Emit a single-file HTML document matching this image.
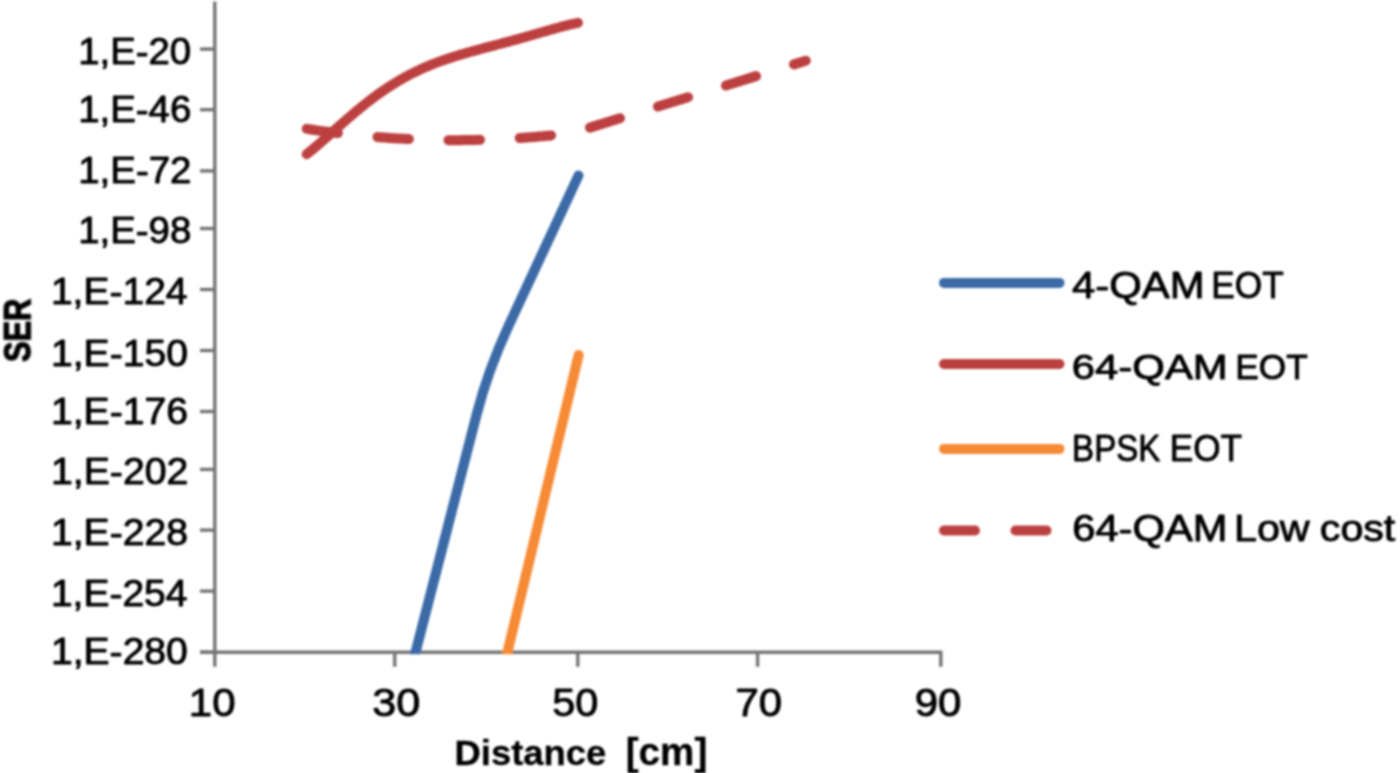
<!DOCTYPE html>
<html><head><meta charset="utf-8"><style>
html,body{margin:0;padding:0;background:#fff;}
svg{display:block;font-family:"Liberation Sans", sans-serif;font-kerning:none;}
#art{filter:url(#soft);}
text{font-kerning:none;stroke:#000;stroke-width:0.9px;stroke-linejoin:round;}
</style></head><body>
<svg width="1400" height="773" viewBox="0 0 1400 773">
<defs><filter id="soft" x="-2%" y="-2%" width="104%" height="104%"><feGaussianBlur stdDeviation="0.8"/></filter></defs>
<rect width="1400" height="773" fill="#fff"/>
<g id="art">
<line x1="214.8" y1="1.5" x2="214.8" y2="653.7" stroke="#747474" stroke-width="3.4"/>
<line x1="200" y1="652.2" x2="942.3" y2="652.2" stroke="#747474" stroke-width="3.4"/>
<line x1="200" y1="49.1" x2="214.8" y2="49.1" stroke="#747474" stroke-width="3.4"/>
<line x1="200" y1="109.7" x2="214.8" y2="109.7" stroke="#747474" stroke-width="3.4"/>
<line x1="200" y1="170.9" x2="214.8" y2="170.9" stroke="#747474" stroke-width="3.4"/>
<line x1="200" y1="228.5" x2="214.8" y2="228.5" stroke="#747474" stroke-width="3.4"/>
<line x1="200" y1="289.5" x2="214.8" y2="289.5" stroke="#747474" stroke-width="3.4"/>
<line x1="200" y1="350.5" x2="214.8" y2="350.5" stroke="#747474" stroke-width="3.4"/>
<line x1="200" y1="411.5" x2="214.8" y2="411.5" stroke="#747474" stroke-width="3.4"/>
<line x1="200" y1="469.4" x2="214.8" y2="469.4" stroke="#747474" stroke-width="3.4"/>
<line x1="200" y1="530.1" x2="214.8" y2="530.1" stroke="#747474" stroke-width="3.4"/>
<line x1="200" y1="591.1" x2="214.8" y2="591.1" stroke="#747474" stroke-width="3.4"/>
<line x1="200" y1="652.2" x2="214.8" y2="652.2" stroke="#747474" stroke-width="3.4"/>
<line x1="214.8" y1="652.2" x2="214.8" y2="666.8" stroke="#747474" stroke-width="3.4"/>
<line x1="394.7" y1="652.2" x2="394.7" y2="666.8" stroke="#747474" stroke-width="3.4"/>
<line x1="577.8" y1="652.2" x2="577.8" y2="666.8" stroke="#747474" stroke-width="3.4"/>
<line x1="757.6" y1="652.2" x2="757.6" y2="666.8" stroke="#747474" stroke-width="3.4"/>
<line x1="940.8" y1="652.2" x2="940.8" y2="666.8" stroke="#747474" stroke-width="3.4"/>
<text transform="translate(78.18,63.80) scale(1.0340,1)" font-size="37.06" font-weight="normal" fill="#000" >1,E-20</text>
<text transform="translate(78.18,121.50) scale(1.0358,1)" font-size="37.06" font-weight="normal" fill="#000" >1,E-46</text>
<text transform="translate(78.17,182.60) scale(1.0422,1)" font-size="36.92" font-weight="normal" fill="#000" >1,E-72</text>
<text transform="translate(78.18,243.20) scale(1.0356,1)" font-size="37.06" font-weight="normal" fill="#000" >1,E-98</text>
<text transform="translate(50.93,304.10) scale(1.0483,1)" font-size="37.21" font-weight="normal" fill="#000" >1,E-124</text>
<text transform="translate(50.92,365.60) scale(1.0472,1)" font-size="37.36" font-weight="normal" fill="#000" >1,E-150</text>
<text transform="translate(50.92,423.50) scale(1.0528,1)" font-size="37.21" font-weight="normal" fill="#000" >1,E-176</text>
<text transform="translate(50.91,484.10) scale(1.0548,1)" font-size="37.21" font-weight="normal" fill="#000" >1,E-202</text>
<text transform="translate(50.92,544.80) scale(1.0526,1)" font-size="37.21" font-weight="normal" fill="#000" >1,E-228</text>
<text transform="translate(50.93,606.20) scale(1.0777,1)" font-size="36.19" font-weight="normal" fill="#000" >1,E-254</text>
<text transform="translate(50.92,663.80) scale(1.0680,1)" font-size="36.63" font-weight="normal" fill="#000" >1,E-280</text>
<text transform="translate(188.80,716.00) scale(1.1035,1)" font-size="38.08" font-weight="normal" fill="#000" >10</text>
<text transform="translate(372.36,716.00) scale(1.1339,1)" font-size="38.08" font-weight="normal" fill="#000" >30</text>
<text transform="translate(552.24,716.00) scale(1.0878,1)" font-size="38.08" font-weight="normal" fill="#000" >50</text>
<text transform="translate(735.55,716.00) scale(1.0997,1)" font-size="38.08" font-weight="normal" fill="#000" >70</text>
<text transform="translate(914.63,716.00) scale(1.1027,1)" font-size="38.08" font-weight="normal" fill="#000" >90</text>
<text transform="translate(454.46,764.90) scale(1.0190,1)" font-size="35.76" font-weight="bold" fill="#000" style="stroke-width:0.3px" >Distance</text>
<text transform="translate(625.73,764.90) scale(1.0126,1)" font-size="38.14" font-weight="bold" fill="#000" style="stroke-width:0.3px" >[cm]</text>
<g transform="translate(30.9,362.5) rotate(-90)"><text transform="translate(0.51,-0.60) scale(0.8488,1)" font-size="36.34" font-weight="bold" fill="#000" style="stroke-width:1.3px" >SER</text></g>
<text transform="translate(1072.04,298.00) scale(1.1243,1)" font-size="37.21" font-weight="normal" fill="#000">4-QAM</text>
<text transform="translate(1211.21,298.00) scale(0.9479,1)" font-size="37.21" font-weight="normal" fill="#000">EOT</text>
<line x1="944" y1="282.9" x2="1059.5" y2="282.9" stroke="#3B6AA7" stroke-width="10" stroke-linecap="round"/>
<text transform="translate(1071.77,378.70) scale(1.1771,1)" font-size="35.61" font-weight="normal" fill="#000">64-QAM</text>
<text transform="translate(1235.31,378.70) scale(0.9904,1)" font-size="35.61" font-weight="normal" fill="#000">EOT</text>
<line x1="944" y1="364.0" x2="1059.5" y2="364.0" stroke="#BD4141" stroke-width="10" stroke-linecap="round"/>
<text transform="translate(1072.09,460.60) scale(0.8848,1)" font-size="37.36" font-weight="normal" fill="#000">BPSK</text>
<text transform="translate(1169.72,460.60) scale(0.9414,1)" font-size="37.36" font-weight="normal" fill="#000">EOT</text>
<line x1="944" y1="448.9" x2="1059.5" y2="448.9" stroke="#F68A35" stroke-width="10" stroke-linecap="round"/>
<text transform="translate(1072.18,541.30) scale(1.1346,1)" font-size="36.77" font-weight="normal" fill="#000">64-QAM</text>
<text transform="translate(1233.91,541.30) scale(1.1234,1)" font-size="36.77" font-weight="normal" fill="#000">Low</text>
<text transform="translate(1319.85,541.30) scale(1.1187,1)" font-size="36.77" font-weight="normal" fill="#000">cost</text>
<line x1="944" y1="530.5" x2="1059.5" y2="530.5" stroke="#BD4141" stroke-width="10" stroke-linecap="round" stroke-dasharray="31 40.5"/>
<defs><clipPath id="pa"><rect x="0" y="0" width="1400" height="654.2"/></clipPath></defs>
<g clip-path="url(#pa)" fill="none" stroke-width="10" stroke-linecap="round" stroke-linejoin="round">
<path d="M306.70,128.87 L308.70,129.17 L310.70,129.47 L312.70,129.76 L314.70,130.05 L316.70,130.34 L318.70,130.62 L320.70,130.90 L322.70,131.17 L324.70,131.44 L326.70,131.71 L328.70,131.97 L330.70,132.22 L332.70,132.48 L334.70,132.72 L336.70,132.97 L338.70,133.21 L340.70,133.45 L342.70,133.68 L344.70,133.91 L346.70,134.13 L348.70,134.35 L350.70,134.57 L352.70,134.78 L354.70,134.99 L356.70,135.19 L358.70,135.39 L360.70,135.59 L362.70,135.78 L364.70,135.96 L366.70,136.15 L368.70,136.33 L370.70,136.50 L372.70,136.67 L374.70,136.84 L376.70,137.00 L378.70,137.16 L380.70,137.31 L382.70,137.46 L384.70,137.61 L386.70,137.75 L388.70,137.89 L390.70,138.03 L392.70,138.16 L394.70,138.28 L396.70,138.40 L398.70,138.52 L400.70,138.63 L402.70,138.74 L404.70,138.85 L406.70,138.95 L408.70,139.05 L410.70,139.14 L412.70,139.23 L414.70,139.31 L416.70,139.39 L418.70,139.47 L420.70,139.54 L422.70,139.61 L424.70,139.68 L426.70,139.74 L428.70,139.79 L430.70,139.84 L432.70,139.89 L434.70,139.94 L436.70,139.98 L438.70,140.01 L440.70,140.04 L442.70,140.07 L444.70,140.09 L446.70,140.11 L448.70,140.13 L450.70,140.14 L452.70,140.15 L454.70,140.15 L456.70,140.15 L458.70,140.14 L460.70,140.13 L462.70,140.12 L464.70,140.10 L466.70,140.08 L468.70,140.05 L470.70,140.02 L472.70,139.99 L474.70,139.95 L476.70,139.91 L478.70,139.86 L480.70,139.81 L482.70,139.76 L484.70,139.70 L486.70,139.64 L488.70,139.57 L490.70,139.50 L492.70,139.42 L494.70,139.35 L496.70,139.26 L498.70,139.17 L500.70,139.08 L502.70,138.99 L504.70,138.89 L506.70,138.78 L508.70,138.68 L510.70,138.57 L512.70,138.45 L514.70,138.33 L516.70,138.20 L518.70,138.08 L520.70,137.94 L522.70,137.81 L524.70,137.67 L526.70,137.52 L528.70,137.37 L530.70,137.22 L532.70,137.06 L534.70,136.90 L536.70,136.74 L538.70,136.57 L540.70,136.39 L542.70,136.22 L544.70,136.04 L546.70,135.85 L548.70,135.66 L550.70,135.47 L552.70,135.27 L554.70,135.07 L556.70,134.86 L558.14,134.71 Q572.14,133.13 586.14,128.79 L805.8,60.70" stroke="#BD4141" stroke-dasharray="31.5 39.7"/>
<path d="M306.70,154.16 L308.70,152.57 L310.70,150.94 L312.70,149.28 L314.70,147.61 L316.70,145.91 L318.70,144.19 L320.70,142.45 L322.70,140.71 L324.70,138.95 L326.70,137.18 L328.70,135.41 L330.70,133.63 L332.70,131.85 L334.70,130.07 L336.70,128.29 L338.70,126.51 L340.70,124.74 L342.70,122.98 L344.70,121.22 L346.70,119.48 L348.70,117.74 L350.70,116.02 L352.70,114.32 L354.70,112.62 L356.70,110.95 L358.70,109.29 L360.70,107.65 L362.70,106.03 L364.70,104.43 L366.70,102.84 L368.70,101.29 L370.70,99.75 L372.70,98.23 L374.70,96.74 L376.70,95.28 L378.70,93.83 L380.70,92.41 L382.70,91.02 L384.70,89.65 L386.70,88.31 L388.70,86.99 L390.70,85.69 L392.70,84.43 L394.70,83.19 L396.70,81.97 L398.70,80.78 L400.70,79.61 L402.70,78.47 L404.70,77.36 L406.70,76.27 L408.70,75.20 L410.70,74.16 L412.70,73.14 L414.70,72.15 L416.70,71.18 L418.70,70.23 L420.70,69.31 L422.70,68.40 L424.70,67.52 L426.70,66.66 L428.70,65.82 L430.70,65.00 L432.70,64.19 L434.70,63.41 L436.70,62.65 L438.70,61.90 L440.70,61.17 L442.70,60.45 L444.70,59.75 L446.70,59.06 L448.70,58.39 L450.70,57.73 L452.70,57.09 L454.70,56.46 L456.70,55.83 L458.70,55.22 L460.70,54.62 L462.70,54.03 L464.70,53.45 L466.70,52.87 L468.70,52.30 L470.70,51.74 L472.70,51.19 L474.70,50.64 L476.70,50.09 L478.70,49.55 L480.70,49.01 L482.70,48.48 L484.70,47.94 L486.70,47.41 L488.70,46.88 L490.70,46.36 L492.70,45.83 L494.70,45.30 L496.70,44.77 L498.70,44.24 L500.70,43.71 L502.70,43.17 L504.70,42.64 L506.70,42.10 L508.70,41.56 L510.70,41.02 L512.70,40.47 L514.70,39.93 L516.70,39.38 L518.70,38.82 L520.70,38.26 L522.70,37.70 L524.70,37.14 L526.70,36.57 L528.70,36.01 L530.70,35.43 L532.70,34.86 L534.70,34.29 L536.70,33.71 L538.70,33.13 L540.70,32.56 L542.70,31.98 L544.70,31.41 L546.70,30.83 L548.70,30.26 L550.70,29.69 L552.70,29.13 L554.70,28.57 L556.70,28.01 L558.70,27.47 L560.70,26.93 L562.70,26.40 L564.70,25.88 L566.70,25.38 L568.70,24.89 L570.70,24.41 L572.70,23.95 L574.70,23.51 L576.70,23.09 L577.90,22.85" stroke="#BD4141"/>
<path d="M411.48,668 L476.50,415.0 Q488.1,369.9 508.52,326.0 L578.5,175.5" stroke="#3B6AA7"/>
<path d="M503.64,668 L578.67,355" stroke="#F68A35"/>
</g>
</g>
</svg>
</body></html>
